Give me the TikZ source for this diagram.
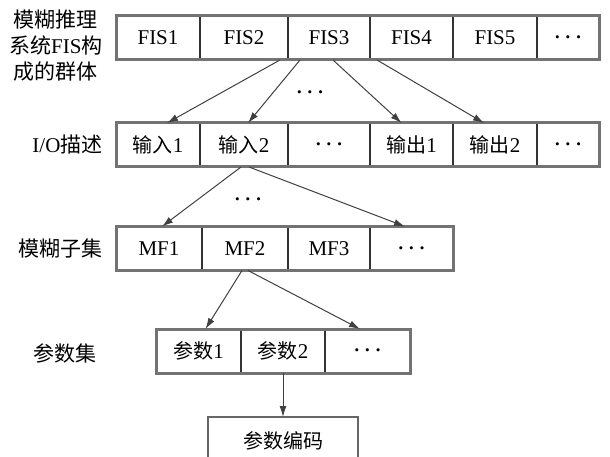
\documentclass[tikz,border=0pt]{standalone}
\usepackage{fontspec}
\setmainfont{Liberation Serif}
\newfontfamily\cjk{Noto Sans CJK SC}
\usetikzlibrary{positioning,arrows.meta}
\newcommand\zh[1]{{\cjk\fontsize{20}{24}\selectfont #1}}
\newcommand\more{{\boldmath$\cdots$}}

\begin{document}
\begin{tikzpicture}[%
  x=1pt, y=-1pt,
  cell/.style={draw=black!80, line width=1.3pt, fill=white, minimum height=44pt,
    inner sep=0pt, outer sep=0pt, font=\fontsize{21}{24}\selectfont},
  rowframe/.style={draw=black!55, line width=3pt},
  link/.style={draw=black!75, line width=1pt, -{Latex[length=11pt,width=7pt]}},
  lvl/.style={anchor=east, align=center, font=\cjk\fontsize{21}{26}\selectfont},
  gap/.style={font=\fontsize{21}{24}\selectfont}]
\useasboundingbox (0,0) rectangle (610,457);
\clip (0,0) rectangle (610,457);

% level labels
\node[lvl] (l1) at (106,46) {模糊推理\\系统{\rmfamily FIS}构\\成的群体};
\node[lvl] (l2) at (106,145) {{\rmfamily I/O}描述};
\node[lvl] (l3) at (106,249) {模糊子集};
\node[lvl] (l4) at (100,353) {参数集};

% FIS population
\node[cell, minimum width=84pt, anchor=west] (f1) at (116,38) {FIS1};
\node[cell, minimum width=88pt, right=0pt of f1] (f2) {FIS2};
\node[cell, minimum width=82pt, right=0pt of f2] (f3) {FIS3};
\node[cell, minimum width=83pt, right=0pt of f3] (f4) {FIS4};
\node[cell, minimum width=84pt, right=0pt of f4] (f5) {FIS5};
\node[cell, minimum width=62pt, right=0pt of f5] (f6) {\more};
\draw[rowframe] (f1.north west) rectangle (f6.south east);

% I/O description
\node[cell, minimum width=84pt, anchor=west] (i1) at (116,145) {\zh{输入}1};
\node[cell, minimum width=88pt, right=0pt of i1] (i2) {\zh{输入}2};
\node[cell, minimum width=82pt, right=0pt of i2] (i3) {\more};
\node[cell, minimum width=83pt, right=0pt of i3] (o1) {\zh{输出}1};
\node[cell, minimum width=84pt, right=0pt of o1] (o2) {\zh{输出}2};
\node[cell, minimum width=62pt, right=0pt of o2] (o3) {\more};
\draw[rowframe] (i1.north west) rectangle (o3.south east);

% fuzzy subsets
\node[cell, minimum width=86pt, anchor=west] (m1) at (116,248.5) {MF1};
\node[cell, minimum width=86pt, right=0pt of m1] (m2) {MF2};
\node[cell, minimum width=82pt, right=0pt of m2] (m3) {MF3};
\node[cell, minimum width=83pt, right=0pt of m3] (m4) {\more};
\draw[rowframe] (m1.north west) rectangle (m4.south east);

% parameters
\node[cell, minimum width=85pt, anchor=west] (p1) at (156,351) {\zh{参数}1};
\node[cell, minimum width=84pt, right=0pt of p1] (p2) {\zh{参数}2};
\node[cell, minimum width=85pt, right=0pt of p2] (p3) {\more};
\draw[rowframe] (p1.north west) rectangle (p3.south east);

% coding
\node[cell, minimum width=150pt, minimum height=52pt, anchor=north,
  draw=black!60, line width=2.5pt] (code) at (283,417) {};
\node[gap] (codetxt) at (283,441) {\zh{参数编码}};

% links
\draw[link] ([xshift=-49pt]f3.south) -- ([xshift=9pt]i1.north);
\draw[link] ([xshift=-29pt]f3.south) -- ([xshift=4pt]i2.north);
\draw[link] ([xshift=4pt]f3.south) -- ([xshift=-10pt]o1.north);
\draw[link] ([xshift=48pt]f3.south) -- ([xshift=-11pt]o2.north);
\node[gap] (d1) at (310,93) {\more};

\draw[link] ([xshift=-3pt]i2.south) -- ([xshift=3pt]m1.north);
\draw[link] ([xshift=5pt]i2.south) -- ([xshift=-6.5pt]m4.north);
\node[gap] (d2) at (248,200) {\more};

\draw[link] ([xshift=-3pt]m2.south) -- ([xshift=7pt]p1.north);
\draw[link] ([xshift=3pt]m2.south) -- ([xshift=-7.5pt]p3.north);

\draw[link] (p2.south) -- (code.north);
\end{tikzpicture}
\end{document}
